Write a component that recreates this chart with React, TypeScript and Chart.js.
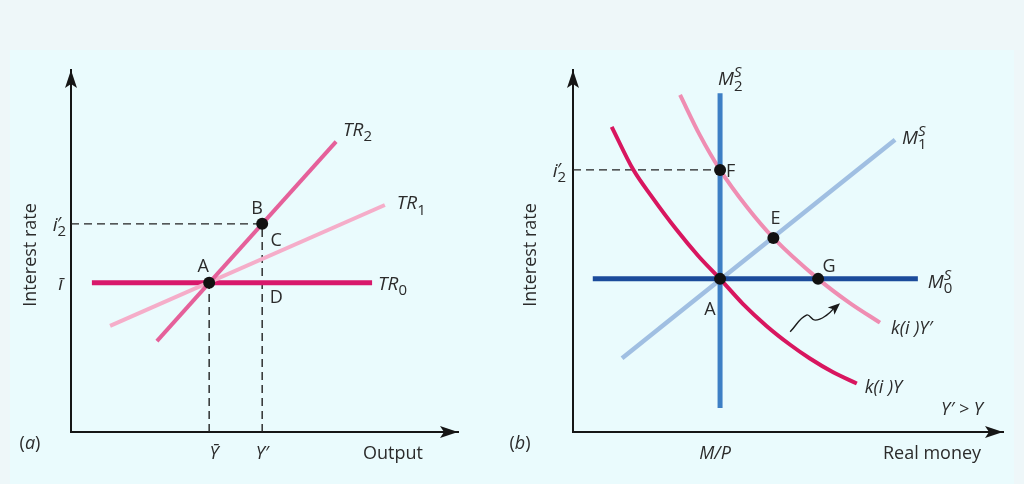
import React, { useEffect, useRef } from 'react';
import { Chart, registerables } from 'chart.js';
Chart.register(...registerables);

const FONT = '"Open Sans", "Noto Sans", "DejaVu Sans", sans-serif';
const TEXT = '#2b2b2b';
const AXIS = '#161616';

// ---------- Panel (a): interest rate vs output ----------
const outputTickValues = [35.7, 49.4];
const outputTickLabels = ['Ȳ', 'Y′'];
const rateTickValuesA = [41.2, 57.5]; // ī, i′2
const tr0X = [5.4, 77.8];
const tr0Y = [41.2, 41.2];
const tr1X = [10.1, 81.1];
const tr1Y = [29.3, 62.7];
const tr2X = [22.2, 68.5];
const tr2Y = [25.1, 80.2];
const pointLabelsA = ['A', 'B'];
const pointsAX = [35.7, 49.4];
const pointsAY = [41.2, 57.5];

// ---------- Panel (b): interest rate vs real money ----------
const moneyTickValue = 34.2;
const rateTickValueB = 72.4;
const ms0X = [4.6, 80.2];
const ms0Y = [42.3, 42.3];
const ms1X = [11.4, 74.9];
const ms1Y = [20.4, 80.7];
const ms2X = [34.2, 34.2];
const ms2Y = [6.6, 93.6];
const kYX = [9.0, 14.0, 18.4, 24.0, 29.1, 34.2, 39.5, 45.0, 50.5, 55.1, 60.5, 66.0];
const kYY = [84.3, 72.5, 64.9, 56.0, 48.7, 42.3, 35.4, 29.3, 24.1, 20.3, 16.5, 13.4];
const kY2X = [24.9, 29.5, 34.2, 40.4, 46.6, 57.0, 64.4, 71.4];
const kY2Y = [93.1, 82.0, 72.4, 62.2, 53.6, 42.3, 35.6, 30.2];
const pointLabelsB = ['A', 'F', 'E', 'G'];
const pointsBX = [34.2, 34.2, 46.6, 57.0];
const pointsBY = [42.3, 72.4, 53.6, 42.3];
const shiftX = [50.5, 54.3, 56.3, 59.0, 62.1];
const shiftY = [27.7, 32.3, 30.9, 32.3, 35.6];

type Seg = { t: string; it?: boolean; sup?: string; sub?: string; prime?: boolean };

const zip = (xs: number[], ys: number[]) => xs.map((x, i) => ({ x, y: ys[i] }));

function fontOf(size: number, it?: boolean) {
  return `${it ? 'italic ' : ''}${size}px ${FONT}`;
}

function drawRich(ctx: CanvasRenderingContext2D, segs: Seg[], x: number, y: number, align: 'left' | 'center' | 'right', size = 18, color = TEXT) {
  const small = Math.round(size * 0.78);
  const widths: [number, number][] = [];
  let total = 0;
  for (const s of segs) {
    ctx.font = fontOf(size, s.it);
    const w = s.t ? ctx.measureText(s.t).width : 0;
    let e = 0;
    if (s.sup || s.sub) {
      ctx.font = fontOf(s.prime ? size : small, s.it);
      const supW = s.sup ? ctx.measureText(s.sup).width : 0;
      ctx.font = fontOf(small, false);
      const subW = s.sub ? ctx.measureText(s.sub).width : 0;
      e = Math.max(supW, subW);
    }
    widths.push([w, e]);
    total += w + e;
  }
  let cx = align === 'left' ? x : align === 'center' ? x - total / 2 : x - total;
  const base = y + size * 0.36;
  ctx.save();
  ctx.fillStyle = color;
  ctx.textAlign = 'left';
  ctx.textBaseline = 'alphabetic';
  segs.forEach((s, i) => {
    const [w, e] = widths[i];
    if (s.t) {
      ctx.font = fontOf(size, s.it);
      ctx.fillText(s.t, cx, base);
    }
    cx += w;
    if (s.sup) {
      if (s.prime) {
        ctx.font = fontOf(size, s.it);
        ctx.fillText(s.sup, cx - size * 0.05, base - size * 0.05);
      } else {
        ctx.font = fontOf(small, s.it);
        ctx.fillText(s.sup, cx, base - size * 0.42);
      }
    }
    if (s.sub) {
      ctx.font = fontOf(small, false);
      ctx.fillText(s.sub, cx, base + size * 0.3);
    }
    cx += e;
  });
  ctx.restore();
}

function rotatedTitle(ctx: CanvasRenderingContext2D, text: string, x: number, y: number) {
  ctx.save();
  ctx.translate(x, y);
  ctx.rotate(-Math.PI / 2);
  drawRich(ctx, [{ t: text }], 0, 0, 'center');
  ctx.restore();
}

const axisArrows = {
  id: 'axisArrows',
  afterDraw(chart: any) {
    const { ctx, chartArea: { left, top, right, bottom } } = chart;
    ctx.save();
    ctx.fillStyle = AXIS;
    ctx.beginPath();
    ctx.moveTo(left, top);
    ctx.lineTo(left - 6, top + 18);
    ctx.lineTo(left, top + 14);
    ctx.lineTo(left + 6, top + 18);
    ctx.closePath();
    ctx.fill();
    ctx.beginPath();
    ctx.moveTo(right, bottom);
    ctx.lineTo(right - 18, bottom - 6);
    ctx.lineTo(right - 14, bottom);
    ctx.lineTo(right - 18, bottom + 6);
    ctx.closePath();
    ctx.fill();
    ctx.restore();
  },
};

function lineDs(xs: number[], ys: number[], color: string, width: number, extra: any = {}) {
  return {
    data: zip(xs, ys),
    showLine: true,
    borderColor: color,
    backgroundColor: color,
    borderWidth: width,
    pointRadius: 0,
    fill: false,
    ...extra,
  };
}

function pointDs(xs: number[], ys: number[]) {
  return {
    data: zip(xs, ys),
    showLine: false,
    pointRadius: 6,
    pointBackgroundColor: '#111',
    pointBorderColor: '#111',
    pointBorderWidth: 0,
  };
}

const dashStyle = { borderDash: [8, 5], borderCapStyle: 'butt' };

function baseOptions(padding: any) {
  const axis = (fit: (s: any) => void) => ({
    type: 'linear',
    min: 0,
    max: 100,
    grid: { display: false },
    ticks: { display: false },
    border: { display: true, color: AXIS, width: 2 },
    afterFit: fit,
  });
  return {
    responsive: false,
    animation: false,
    devicePixelRatio: 1,
    events: [],
    layout: { padding },
    plugins: { legend: { display: false }, tooltip: { enabled: false } },
    scales: {
      x: axis((s: any) => { s.height = 0; }),
      y: axis((s: any) => { s.width = 0; }),
    },
  };
}

function configA(): any {
  const labels = {
    id: 'labelsA',
    afterDraw(chart: any) {
      const { ctx, chartArea: ca, scales } = chart;
      const X = (v: number) => scales.x.getPixelForValue(v);
      const Y = (v: number) => scales.y.getPixelForValue(v);
      rotatedTitle(ctx, 'Interest rate', ca.left - 41, (ca.top + ca.bottom) / 2 + 4);
      drawRich(ctx, [{ t: 'Output' }], ca.right - 65, ca.bottom + 21, 'center');
      drawRich(ctx, [{ t: '(' }, { t: 'a', it: true }, { t: ')' }], ca.left - 41, ca.bottom + 11, 'center');
      outputTickValues.forEach((v, i) => {
        drawRich(ctx, [{ t: outputTickLabels[i], it: true }], X(v) + (i === 0 ? 5 : 0), ca.bottom + 21, 'center');
      });
      drawRich(ctx, [{ t: 'ī', it: true }], ca.left - 8, Y(rateTickValuesA[0]), 'right', 19);
      drawRich(ctx, [{ t: 'i', it: true, sup: '′', sub: '2', prime: true }], ca.left - 5, Y(rateTickValuesA[1]), 'right', 19);
      drawRich(ctx, [{ t: 'TR', it: true, sub: '2' }], X(tr2X[1]) + 7, Y(tr2Y[1]) - 13, 'left', 19);
      drawRich(ctx, [{ t: 'TR', it: true, sub: '1' }], X(tr1X[1]) + 12, Y(tr1Y[1]) - 3, 'left', 19);
      drawRich(ctx, [{ t: 'TR', it: true, sub: '0' }], X(tr0X[1]) + 6, Y(tr0Y[1]), 'left', 19);
      drawRich(ctx, [{ t: pointLabelsA[0] }], X(pointsAX[0]) - 6, Y(pointsAY[0]) - 17, 'center');
      drawRich(ctx, [{ t: pointLabelsA[1] }], X(pointsAX[1]) - 5, Y(pointsAY[1]) - 16, 'center');
      drawRich(ctx, [{ t: 'C' }], X(pointsAX[1]) + 14, Y(pointsAY[1]) + 16, 'center');
      drawRich(ctx, [{ t: 'D' }], X(pointsAX[1]) + 14, Y(pointsAY[0]) + 14, 'center');
    },
  };
  return {
    type: 'scatter',
    data: {
      datasets: [
        pointDs(pointsAX, pointsAY),
        lineDs(tr2X, tr2Y, '#e5609a', 4),
        lineDs(tr1X, tr1Y, '#f5adc9', 4),
        lineDs(tr0X, tr0Y, '#d8186b', 5),
        lineDs([0, pointsAX[1]], [pointsAY[1], pointsAY[1]], '#222', 1.4, dashStyle),
        lineDs([pointsAX[0], pointsAX[0]], [0, pointsAY[0]], '#222', 1.4, dashStyle),
        lineDs([pointsAX[1], pointsAX[1]], [0, pointsAY[1]], '#222', 1.4, dashStyle),
      ],
    },
    options: baseOptions({ left: 71, top: 70, right: 38, bottom: 52 }),
    plugins: [axisArrows, labels],
  };
}

function configB(): any {
  const labels = {
    id: 'labelsB',
    afterDraw(chart: any) {
      const { ctx, chartArea: ca, scales } = chart;
      const X = (v: number) => scales.x.getPixelForValue(v);
      const Y = (v: number) => scales.y.getPixelForValue(v);
      rotatedTitle(ctx, 'Interest rate', ca.left - 43, (ca.top + ca.bottom) / 2 + 4);
      drawRich(ctx, [{ t: 'Real money' }], ca.right - 71, ca.bottom + 21, 'center');
      drawRich(ctx, [{ t: '(' }, { t: 'b', it: true }, { t: ')' }], ca.left - 53, ca.bottom + 11, 'center');
      drawRich(ctx, [{ t: 'M/P', it: true }], X(moneyTickValue) - 5, ca.bottom + 21, 'center');
      drawRich(ctx, [{ t: 'i', it: true, sup: '′', sub: '2', prime: true }], ca.left - 7, Y(rateTickValueB), 'right', 19);
      drawRich(ctx, [{ t: 'M', it: true, sup: 'S', sub: '2' }], X(ms2X[1]) - 2, Y(ms2Y[1]) - 15, 'left', 19);
      drawRich(ctx, [{ t: 'M', it: true, sup: 'S', sub: '1' }], X(ms1X[1]) + 7, Y(ms1Y[1]) - 3, 'left', 19);
      drawRich(ctx, [{ t: 'M', it: true, sup: 'S', sub: '0' }], X(ms0X[1]) + 10, Y(ms0Y[1]) + 2, 'left', 19);
      drawRich(ctx, [{ t: pointLabelsB[0] }], X(pointsBX[0]) - 10, Y(pointsBY[0]) + 30, 'center');
      drawRich(ctx, [{ t: pointLabelsB[1] }], X(pointsBX[1]) + 6, Y(pointsBY[1]) + 1, 'left');
      drawRich(ctx, [{ t: pointLabelsB[2] }], X(pointsBX[2]) + 2, Y(pointsBY[2]) - 20, 'center');
      drawRich(ctx, [{ t: pointLabelsB[3] }], X(pointsBX[3]) + 11, Y(pointsBY[3]) - 13, 'center');
      drawRich(ctx, [{ t: 'k(i )Y′', it: true }], X(kY2X[kY2X.length - 1]) + 11, Y(kY2Y[kY2Y.length - 1]) + 5, 'left', 18);
      drawRich(ctx, [{ t: 'k(i )Y', it: true }], X(kYX[kYX.length - 1]) + 8, Y(kYY[kYY.length - 1]) + 3, 'left', 18);
      drawRich(ctx, [{ t: 'Y′ > Y', it: true }], ca.right - 41, ca.bottom - 23, 'center', 18);
      // arrowhead of the shift squiggle
      const n = shiftX.length;
      const tx = X(shiftX[n - 1]), ty = Y(shiftY[n - 1]);
      const px = X(shiftX[n - 2]), py = Y(shiftY[n - 2]);
      const ang = Math.atan2(ty - py, tx - px);
      ctx.save();
      ctx.translate(tx, ty);
      ctx.rotate(ang);
      ctx.fillStyle = '#1a1a1a';
      ctx.beginPath();
      ctx.moveTo(0, 0);
      ctx.lineTo(-12, -5);
      ctx.lineTo(-9, 0);
      ctx.lineTo(-12, 5);
      ctx.closePath();
      ctx.fill();
      ctx.restore();
    },
  };
  return {
    type: 'scatter',
    data: {
      datasets: [
        pointDs(pointsBX, pointsBY),
        lineDs(ms2X, ms2Y, '#3d7fc5', 5),
        lineDs(ms0X, ms0Y, '#1b4b9b', 5),
        lineDs(kY2X, kY2Y, '#ef8db2', 4, { cubicInterpolationMode: 'monotone' }),
        lineDs(kYX, kYY, '#d8165f', 4, { cubicInterpolationMode: 'monotone' }),
        lineDs(ms1X, ms1Y, '#a0bfe2', 4.5),
        lineDs([0, pointsBX[1]], [pointsBY[1], pointsBY[1]], '#222', 1.4, dashStyle),
        lineDs(shiftX.slice(0, -1).concat([shiftX[shiftX.length - 1] - 0.8]), shiftY.slice(0, -1).concat([shiftY[shiftY.length - 1] - 0.6]), '#1a1a1a', 1.4, { tension: 0.45 }),
      ],
    },
    options: baseOptions({ left: 77, top: 70, right: 21, bottom: 52 }),
    plugins: [axisArrows, labels],
  };
}

export default function App() {
  const refA = useRef<HTMLCanvasElement>(null);
  const refB = useRef<HTMLCanvasElement>(null);
  useEffect(() => {
    const a = new Chart(refA.current as HTMLCanvasElement, configA());
    const b = new Chart(refB.current as HTMLCanvasElement, configB());
    return () => {
      a.destroy();
      b.destroy();
    };
  }, []);
  return (
    <div style={{ position: 'fixed', left: 0, top: 0, width: 1024, height: 484, background: '#eef7f9', overflow: 'hidden' }}>
      <div style={{ position: 'absolute', left: 10, top: 50, width: 1004, height: 434, background: '#eafbfd' }} />
      <canvas ref={refA} width={496} height={484} style={{ position: 'absolute', left: 0, top: 0, width: 496, height: 484 }} />
      <canvas ref={refB} width={528} height={484} style={{ position: 'absolute', left: 496, top: 0, width: 528, height: 484 }} />
    </div>
  );
}
